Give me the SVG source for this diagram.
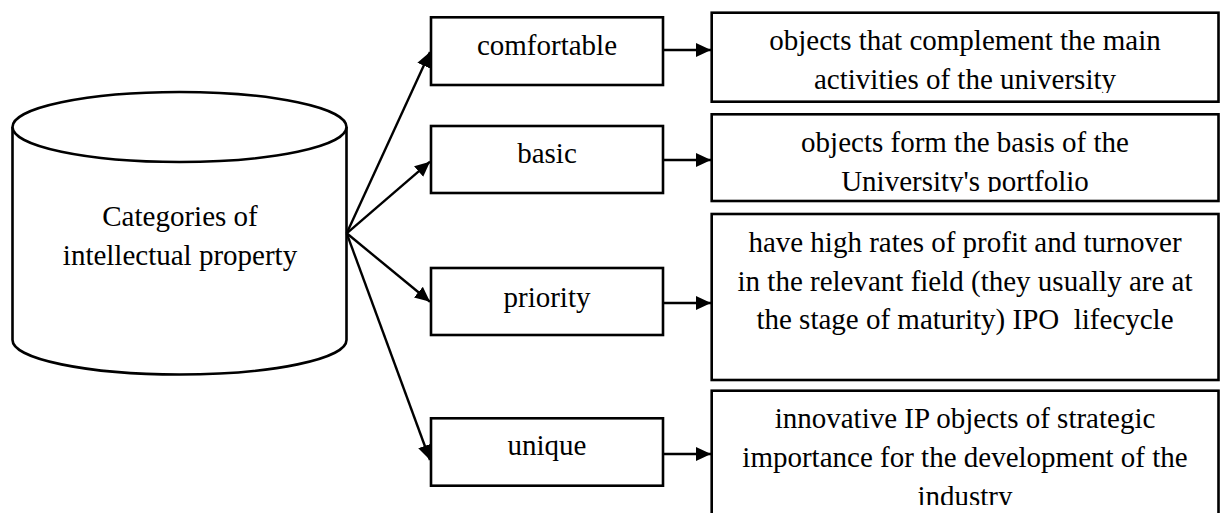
<svg xmlns="http://www.w3.org/2000/svg" width="1220" height="513" viewBox="0 0 1220 513">
<style>
.box{fill:#fff;stroke:#000;stroke-width:2.6}
.cyl{fill:#fff;stroke:#000;stroke-width:2.6}
.t{font-family:"Liberation Serif","Times New Roman",serif;font-size:29px;fill:#000;text-anchor:middle}
.c{stroke:#000;stroke-width:2.4;fill:none;marker-end:url(#ah)}
</style>
<defs>
<marker id="ah" markerUnits="userSpaceOnUse" markerWidth="16" markerHeight="14" refX="15" refY="7" orient="auto">
<path d="M0,0 L15,7 L0,14 Z" fill="#000"/>
</marker>
<clipPath id="cp1"><rect x="712" y="13" width="506" height="80"/></clipPath>
<clipPath id="cp2"><rect x="712" y="115" width="506" height="77"/></clipPath>
<clipPath id="cp3"><rect x="712" y="215" width="506" height="164"/></clipPath>
<clipPath id="cp4"><rect x="712" y="391" width="506" height="114"/></clipPath>
</defs>
<rect width="1220" height="513" fill="#fff"/>

<g id="cylinder">
<path class="cyl" d="M12.5,127 L12.5,340 A167,34.5 0 0 0 346.5,340 L346.5,127"/>
<ellipse class="cyl" cx="179.5" cy="127" rx="167" ry="35"/>
<text class="t" x="180" y="226">Categories of</text>
<text class="t" x="180" y="265">intellectual property</text>
</g>

<g id="n-comfortable">
<rect class="box" x="431" y="17.3" width="232" height="67.7"/>
<text class="t" x="547" y="55">comfortable</text>
</g>
<g id="n-basic">
<rect class="box" x="431" y="126" width="232" height="67"/>
<text class="t" x="547" y="163">basic</text>
</g>
<g id="n-priority">
<rect class="box" x="431" y="268" width="232" height="67"/>
<text class="t" x="547" y="307">priority</text>
</g>
<g id="n-unique">
<rect class="box" x="431" y="418.3" width="232" height="67.4"/>
<text class="t" x="547" y="455">unique</text>
</g>

<g id="d-comfortable">
<rect class="box" x="711.7" y="12.7" width="506.8" height="89"/>
<g clip-path="url(#cp1)">
<text class="t" x="965" y="50">objects that complement the main</text>
<text class="t" x="965" y="89">activities of the university</text>
</g>
</g>
<g id="d-basic">
<rect class="box" x="711.7" y="114.3" width="506.8" height="86.7"/>
<g clip-path="url(#cp2)">
<text class="t" x="965" y="152">objects form the basis of the</text>
<text class="t" x="965" y="191">University's portfolio</text>
</g>
</g>
<g id="d-priority">
<rect class="box" x="711.7" y="214" width="506.8" height="166"/>
<g clip-path="url(#cp3)">
<text class="t" x="965" y="252">have high rates of profit and turnover</text>
<text class="t" x="965" y="290.7">in the relevant field (they usually are at</text>
<text class="t" x="965" y="329.3" xml:space="preserve" style="white-space:pre">the stage of maturity) IPO  lifecycle</text>
</g>
</g>
<g id="d-unique">
<rect class="box" x="711.7" y="390.7" width="506.8" height="150"/>
<g clip-path="url(#cp4)">
<text class="t" x="965" y="428.3">innovative IP objects of strategic</text>
<text class="t" x="965" y="467.3">importance for the development of the</text>
<text class="t" x="965" y="506">industry</text>
</g>
</g>

<g id="connectors">
<line class="c" x1="346.7" y1="233.3" x2="430" y2="52"/>
<line class="c" x1="346.7" y1="233.3" x2="430" y2="161.7"/>
<line class="c" x1="346.7" y1="233.3" x2="430" y2="301.7"/>
<line class="c" x1="346.7" y1="233.3" x2="430" y2="460"/>
<line class="c" x1="663" y1="50" x2="711" y2="50"/>
<line class="c" x1="663" y1="160" x2="711" y2="160"/>
<line class="c" x1="663" y1="303" x2="711" y2="303"/>
<line class="c" x1="663" y1="454" x2="711" y2="454"/>
</g>
</svg>
